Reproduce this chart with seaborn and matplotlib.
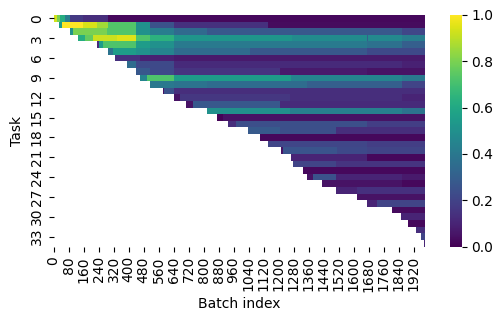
import numpy as np
import pandas as pd
import matplotlib
matplotlib.use("Agg")
import matplotlib.pyplot as plt
import seaborn as sns

n_batches = 1981
xlabel = "Batch index"
ylabel = "Task"

task_starts = [0, 29, 88, 131, 232, 292, 328, 394, 440, 461, 515, 584, 643, 707, 819, 872, 931, 1039,
               1101, 1144, 1213, 1266, 1277, 1330, 1352, 1432, 1506, 1618, 1672, 1805, 1853, 1890, 1933, 1960, 1976]

# each task: (end batch of a stretch, level over that stretch)
task_ends = [
    [17, 35, 61, 88, 159, 291, 1981],
    [45, 159, 230, 292, 440, 515, 643, 1142, 1981],
    [106, 284, 440, 515, 643, 817, 1857, 1981],
    [168, 209, 337, 440, 515, 643, 1270, 1670, 1677, 1857, 1981],
    [240, 266, 440, 515, 643, 1670, 1857, 1981],
    [319, 440, 515, 643, 1048, 1670, 1981],
    [461, 643, 1981],
    [440, 643, 1857, 1981],
    [515, 643, 1208, 1670, 1981],
    [497, 643, 1266, 1857, 1981],
    [643, 817, 1350, 1857, 1981],
    [590, 643, 1981],
    [675, 1261, 1857, 1981],
    [746, 1208, 1981],
    [1261, 1857, 1981],
    [906, 1981],
    [973, 1670, 1981],
    [1208, 1506, 1981],
    [1981],
    [1670, 1981],
    [1225, 1510, 1670, 1981],
    [1670, 1981],
    [1506, 1981],
    [1981],
    [1385, 1506, 1857, 1981],
    [1857, 1981],
    [1618, 1981],
    [1981],
    [1723, 1981],
    [1981],
    [1981],
    [1981],
    [1981],
    [1981],
    [1981],
]
task_levels = [
    [0.93, 0.80, 0.62, 0.42, 0.17, 0.13, 0.02],
    [0.55, 1.00, 0.94, 0.86, 0.73, 0.50, 0.25, 0.14, 0.03],
    [0.50, 0.80, 0.73, 0.50, 0.42, 0.34, 0.27, 0.21],
    [0.62, 0.76, 0.92, 0.95, 0.72, 0.64, 0.52, 0.48, 0.30, 0.47, 0.42],
    [0.12, 0.55, 0.72, 0.55, 0.50, 0.41, 0.37, 0.30],
    [0.38, 0.55, 0.50, 0.45, 0.35, 0.27, 0.22],
    [0.14, 0.09, 0.07],
    [0.35, 0.22, 0.12, 0.09],
    [0.27, 0.22, 0.15, 0.07, 0.05],
    [0.45, 0.72, 0.55, 0.45, 0.40],
    [0.40, 0.38, 0.35, 0.30, 0.20],
    [0.05, 0.25, 0.13],
    [0.05, 0.16, 0.13, 0.10],
    [0.05, 0.27, 0.12],
    [0.50, 0.43, 0.38],
    [0.01, 0.05],
    [0.13, 0.24, 0.18],
    [0.28, 0.24, 0.13],
    [0.02],
    [0.21, 0.18],
    [0.05, 0.26, 0.22, 0.20],
    [0.10, 0.02],
    [0.20, 0.15],
    [0.02],
    [0.05, 0.25, 0.10, 0.07],
    [0.05, 0.02],
    [0.10, 0.14],
    [0.05],
    [0.10, 0.20],
    [0.03],
    [0.10],
    [0.02],
    [0.13],
    [0.20],
    [0.10],
]

matrix = np.full((len(task_starts), n_batches), np.nan)
for row, (start, ends, levels) in enumerate(zip(task_starts, task_ends, task_levels)):
    left = start
    for end, level in zip(ends, levels):
        matrix[row, left:end] = level
        left = end

df = pd.DataFrame(matrix)

fig = plt.figure(figsize=(5.01, 3.21), dpi=100)
W, H = 501, 321
ax = fig.add_axes([53.5 / W, 1 - 246.5 / H, 371.5 / W, 231.5 / H])
cax = fig.add_axes([450 / W, 1 - 246.5 / H, 11.5 / W, 231.5 / H])
sns.heatmap(df, cmap="viridis", vmin=0, vmax=1, ax=ax, cbar_ax=cax,
            xticklabels=80, yticklabels=3, rasterized=True)
ax.set_xlabel(xlabel)
ax.set_ylabel(ylabel)
fig.savefig("out.png", dpi=100)
